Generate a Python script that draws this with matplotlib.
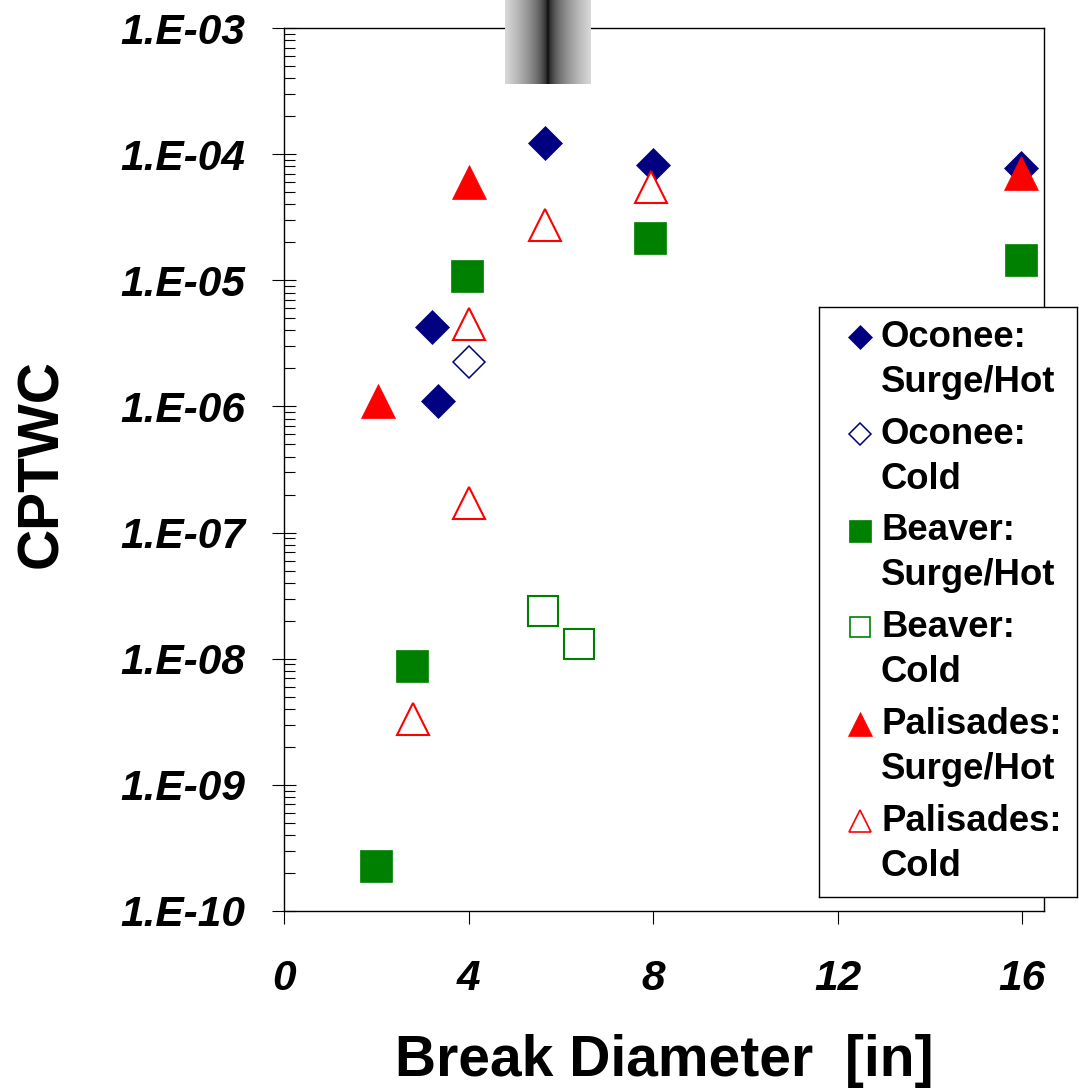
import numpy as np
import matplotlib
matplotlib.use("Agg")
import matplotlib.pyplot as plt
from matplotlib.ticker import LogLocator, FixedLocator, FuncFormatter, NullFormatter

plt.rcParams['font.family'] = ['Liberation Sans', 'DejaVu Sans']

# ---- data: break diameter [in] vs CPTWC ----
oconee_hot_x = [3.21, 3.33, 5.66, 8.0, 15.98]
oconee_hot_y = [4.26e-6, 1.10e-6, 1.23e-4, 8.2e-5, 7.7e-5]

oconee_cold_x = [4.0]
oconee_cold_y = [2.23e-6]

beaver_hot_x = [2.0, 2.77, 3.96, 7.93, 15.98]
beaver_hot_y = [2.28e-10, 8.8e-9, 1.08e-5, 2.17e-5, 1.46e-5]

beaver_cold_x = [5.62, 6.39]
beaver_cold_y = [2.38e-8, 1.31e-8]

palisades_hot_x = [2.03, 4.0, 15.98]
palisades_hot_y = [1.10e-6, 6.05e-5, 7.1e-5]

palisades_cold_x = [2.80, 4.0, 4.0, 5.66, 7.96]
palisades_cold_y = [3.3e-9, 1.73e-7, 4.48e-6, 2.72e-5, 5.5e-5]

x_ticks = [0, 4, 8, 12, 16]
legend_labels = [
    ("Oconee:", "Surge/Hot"),
    ("Oconee:", "Cold"),
    ("Beaver:", "Surge/Hot"),
    ("Beaver:", "Cold"),
    ("Palisades:", "Surge/Hot"),
    ("Palisades:", "Cold"),
]

NAVY = '#000080'
GREEN = '#008000'
RED = '#FF0000'

# marker, colour, filled, plot size, legend size, edge width
styles = [
    ('D', NAVY, True, 17.3, 12.0, 0.5),
    ('D', NAVY, False, 16.3, 11.3, 1.1),
    ('s', GREEN, True, 22.5, 15.4, 0.5),
    ('s', GREEN, False, 21.0, 14.3, 1.5),
    ('^', RED, True, 24.5, 17.0, 0.5),
    ('^', RED, False, 22.8, 15.8, 1.5),
]
series = [
    (oconee_hot_x, oconee_hot_y),
    (oconee_cold_x, oconee_cold_y),
    (beaver_hot_x, beaver_hot_y),
    (beaver_cold_x, beaver_cold_y),
    (palisades_hot_x, palisades_hot_y),
    (palisades_cold_x, palisades_cold_y),
]

W, H = 1079, 1090
fig = plt.figure(figsize=(W / 100, H / 100), dpi=100)
ax = fig.add_axes([284 / W, 1 - 911 / H, 760 / W, 883 / H])

for (xs, ys), (mk, col, filled, ms, _, mew) in zip(series, styles):
    ax.plot(xs, ys, linestyle='none', marker=mk, markersize=ms,
            markerfacecolor=col if filled else 'white',
            markeredgecolor=col, markeredgewidth=mew, clip_on=False)

ax.set_yscale('log')
ax.set_ylim(1e-10, 1e-3)
ax.set_xlim(0, 16.47)

ax.xaxis.set_major_locator(FixedLocator(x_ticks))
ax.yaxis.set_major_locator(LogLocator(base=10, numticks=20))
ax.yaxis.set_minor_locator(LogLocator(base=10, subs=np.arange(2, 10), numticks=20))
ax.yaxis.set_minor_formatter(NullFormatter())
ax.yaxis.set_major_formatter(
    FuncFormatter(lambda v, p: "1.E-%02d" % int(round(-np.log10(v)))))

ax.tick_params(axis='y', which='major', direction='inout', length=17,
               width=0.8, pad=19.5)
ax.tick_params(axis='y', which='minor', direction='in', length=8, width=0.8)
ax.tick_params(axis='x', which='major', direction='out', length=9.4,
               width=0.8, pad=25)
for lab in ax.get_xticklabels() + ax.get_yticklabels():
    lab.set_fontsize(30.5)
    lab.set_fontweight('bold')
    lab.set_fontstyle('italic')

for side in ['left', 'bottom', 'top', 'right']:
    ax.spines[side].set_linewidth(1.0)
    ax.spines[side].set_color('black')

ax.set_xlabel("Break Diameter  [in]", fontsize=41, fontweight='bold',
              labelpad=25)
ax.set_ylabel("CPTWC", fontsize=41, fontweight='bold', va='center')
ax.yaxis.set_label_coords(-0.318, 0.507)

# ---- legend box, drawn by hand so markers line up with the first text line ----
lax = fig.add_axes([819 / W, 1 - 897 / H, 258 / W, 590 / H])
lax.set_xlim(819, 1077)
lax.set_ylim(897, 307)
lax.set_xticks([])
lax.set_yticks([])
lax.set_facecolor('white')
for side in lax.spines.values():
    side.set_linewidth(1.0)
    side.set_color('black')

first_row = 334
row_step = 96.8
line_gap = 45
half_cap = 12.7
for i, ((top, bottom), (mk, col, filled, _, lms, mew)) in enumerate(zip(legend_labels, styles)):
    yc = first_row + i * row_step
    lax.plot([860], [yc + 3], linestyle='none', marker=mk, markersize=lms,
             markerfacecolor=col if filled else 'white', markeredgecolor=col,
             markeredgewidth=min(mew, 1.2))
    lax.text(881, yc + half_cap, top, fontsize=26.3, fontweight='bold',
             va='baseline', ha='left')
    lax.text(881, yc + line_gap + half_cap, bottom, fontsize=26.3,
             fontweight='bold', va='baseline', ha='left')

# ---- grey shaded strip at the top edge ----
gax = fig.add_axes([505 / W, 1 - 84 / H, 86 / W, 84 / H])
d = np.abs(np.linspace(-1, 1, 200))
shade = 0.85 * np.sqrt(d)
gax.imshow(shade[np.newaxis, :], cmap='gray', vmin=0, vmax=1, aspect='auto',
           interpolation='bilinear')
gax.axis('off')

fig.savefig('out.png', dpi=100)
